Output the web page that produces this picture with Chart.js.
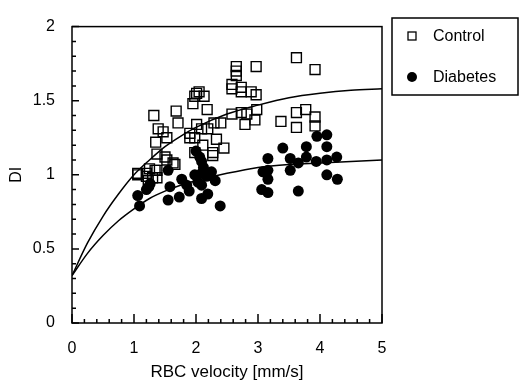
<!DOCTYPE html>
<html>
<head>
<meta charset="utf-8">
<script src="https://cdn.jsdelivr.net/npm/chart.js@4.4.1/dist/chart.umd.min.js"></script>
<style>
  html, body { margin: 0; padding: 0; background: #fff; }
</style>
</head>
<body>
<canvas id="chart" width="520" height="383"></canvas>
<script>
// values: [RBC velocity, DI]
const controlPoints = [
  [3.62,1.79],[2.97,1.73],[3.92,1.71],[2.65,1.73],[2.65,1.70],[2.65,1.67],
  [2.58,1.61],[2.58,1.58],[2.73,1.59],[2.73,1.56],[2.89,1.56],[2.97,1.54],
  [2.01,1.55],[1.98,1.53],[2.05,1.56],[2.13,1.53],[1.95,1.48],[2.18,1.44],
  [1.68,1.43],[1.32,1.40],[1.71,1.35],[2.01,1.34],[1.90,1.28],[2.09,1.31],
  [2.19,1.31],[2.29,1.35],[2.40,1.35],[2.58,1.41],[2.73,1.42],[2.82,1.41],
  [2.98,1.44],[2.95,1.37],[2.79,1.34],[3.37,1.36],[3.62,1.42],[3.77,1.44],
  [3.92,1.39],[3.92,1.33],[3.62,1.32],[1.39,1.31],[1.47,1.29],[1.53,1.25],
  [1.35,1.22],[1.90,1.25],[1.98,1.25],[2.11,1.20],[2.33,1.24],[2.45,1.18],
  [2.27,1.13],[1.37,1.14],[1.50,1.12],[1.66,1.07],[1.06,1.01],[1.20,1.01],
  [1.37,1.03],[1.06,1.00],[1.20,0.99],[1.34,1.03],[1.37,0.98],[1.23,0.96],
  [1.63,1.08],[1.53,1.10],[1.98,1.15],[2.27,1.15],[1.25,1.04],[1.30,0.98]
]
const diabetesPoints = [
  [1.06,0.86],[1.09,0.79],[1.24,0.92],[1.55,1.03],[1.58,0.92],[1.55,0.83],
  [1.73,0.85],[1.77,0.97],[1.89,0.89],[1.85,0.93],[1.98,1.00],[2.09,1.01],
  [2.17,0.99],[2.03,0.95],[2.09,0.93],[2.19,1.00],[2.09,1.09],[2.06,1.12],
  [2.00,1.16],[2.19,0.87],[2.09,0.84],[2.31,0.96],[2.39,0.79],[3.08,1.02],
  [3.16,1.03],[3.16,0.97],[3.16,1.11],[3.06,0.90],[3.16,0.88],[3.52,1.03],
  [3.52,1.11],[3.65,1.08],[3.65,0.89],[3.94,1.09],[4.11,1.10],[4.11,1.00],
  [4.28,0.97],[4.27,1.12],[3.40,1.18],[3.78,1.19],[3.78,1.12],[3.95,1.26],
  [4.11,1.27],[4.11,1.19],[1.20,0.90],[1.26,0.94],[2.25,1.02],[2.12,1.05]
]

// fitted curves, read at these velocities
const fitX        = [0, 0.25, 0.5, 0.75, 1, 1.25, 1.5, 1.75, 2, 2.5, 3, 3.5, 4, 4.5, 5]
const controlFit  = [0.32, 0.54, 0.72, 0.87, 1.00, 1.10, 1.19, 1.26, 1.32, 1.41, 1.47, 1.52, 1.55, 1.57, 1.58]
const diabetesFit = [0.32, 0.47, 0.59, 0.69, 0.77, 0.84, 0.89, 0.93, 0.96, 1.01, 1.05, 1.07, 1.08, 1.09, 1.10]

const xMinorStep = 0.2
const yMinorStep = 0.1

Chart.defaults.font.family = "'Liberation Sans', Arial, sans-serif"
Chart.defaults.color = '#000'

const toXY = (pts) => pts.map(p => ({x: p[0], y: p[1]}))
const fitXY = (ys) => fitX.map((x, i) => ({x: x, y: ys[i]}))

// box round the plot + inward ticks
const frame = {
  id: 'frame',
  afterDatasetsDraw(chart){
    const {ctx, chartArea: a, scales: {x, y}} = chart
    ctx.save()
    ctx.strokeStyle = '#000'
    ctx.lineWidth = 1.5
    ctx.strokeRect(a.left, a.top, a.right - a.left, a.bottom - a.top)
    ctx.beginPath()
    const nx = Math.round((x.max - x.min) / xMinorStep)
    for (let i = 0; i <= nx; i++){
      const px = x.getPixelForValue(x.min + i * xMinorStep)
      const len = i % 5 === 0 ? 9 : 4
      ctx.moveTo(px, a.bottom)
      ctx.lineTo(px, a.bottom - len)
    }
    const ny = Math.round((y.max - y.min) / yMinorStep)
    for (let i = 0; i <= ny; i++){
      const py = y.getPixelForValue(y.min + i * yMinorStep)
      const len = i % 5 === 0 ? 7 : 4
      ctx.moveTo(a.left, py)
      ctx.lineTo(a.left + len, py)
    }
    ctx.stroke()
    ctx.restore()
  }
}

// boxed legend on the right
const boxLegend = {
  id: 'boxLegend',
  afterDraw(chart){
    const ctx = chart.ctx
    const items = chart.data.datasets.filter(d => d.inLegend)
    ctx.save()
    ctx.strokeStyle = '#000'
    ctx.lineWidth = 1.5
    ctx.strokeRect(392, 18, 126, 77)
    ctx.font = "16px 'Liberation Sans', Arial, sans-serif"
    ctx.textBaseline = 'middle'
    ctx.fillStyle = '#000'
    items.forEach((d, i) => {
      const cy = 36 + i * 41
      ctx.beginPath()
      if (d.pointStyle === 'rect'){
        ctx.lineWidth = 1.3
        ctx.strokeRect(408, cy - 4, 8, 8)
      } else {
        ctx.arc(412, cy, 5, 0, Math.PI * 2)
        ctx.fill()
      }
      ctx.fillText(d.label, 433, cy + 1)
    })
    ctx.restore()
  }
}

new Chart(document.getElementById('chart'), {
  type: 'scatter',
  data: {
    datasets: [
      {
        label: 'Control',
        inLegend: true,
        data: toXY(controlPoints),
        pointStyle: 'rect',
        pointRadius: 7,
        backgroundColor: 'rgba(0,0,0,0)',
        borderColor: '#000',
        borderWidth: 1.4
      },
      {
        label: 'Diabetes',
        inLegend: true,
        data: toXY(diabetesPoints),
        pointStyle: 'circle',
        pointRadius: 5.5,
        backgroundColor: '#000',
        borderColor: '#000',
        borderWidth: 0
      },
      {
        label: 'Control fit',
        data: fitXY(controlFit),
        showLine: true,
        pointRadius: 0,
        borderColor: '#000',
        borderWidth: 1.5,
        cubicInterpolationMode: 'monotone'
      },
      {
        label: 'Diabetes fit',
        data: fitXY(diabetesFit),
        showLine: true,
        pointRadius: 0,
        borderColor: '#000',
        borderWidth: 1.5,
        cubicInterpolationMode: 'monotone'
      }
    ]
  },
  options: {
    responsive: false,
    animation: false,
    events: [],
    layout: { padding: { top: 17, right: 138, left: 0, bottom: 0 } },
    plugins: {
      legend: { display: false },
      tooltip: { enabled: false }
    },
    scales: {
      x: {
        type: 'linear',
        min: 0,
        max: 5,
        ticks: { stepSize: 1, font: { size: 16 }, padding: 16, color: '#000' },
        grid: { display: false, drawTicks: false },
        border: { display: false },
        title: { display: true, text: 'RBC velocity [mm/s]', font: { size: 17 }, padding: { top: 0, bottom: 0 }, color: '#000' },
        afterFit: (scale) => { scale.height = 60 }
      },
      y: {
        type: 'linear',
        min: 0,
        max: 2,
        ticks: { stepSize: 0.5, font: { size: 16 }, padding: 17, color: '#000', callback: (v) => String(v) },
        grid: { display: false, drawTicks: false },
        border: { display: false },
        title: { display: true, text: 'DI', font: { size: 16 }, padding: { top: 7, bottom: 0 }, color: '#000' },
        afterFit: (scale) => { scale.width = 72 }
      }
    }
  },
  plugins: [frame, boxLegend]
})
</script>
</body>
</html>
